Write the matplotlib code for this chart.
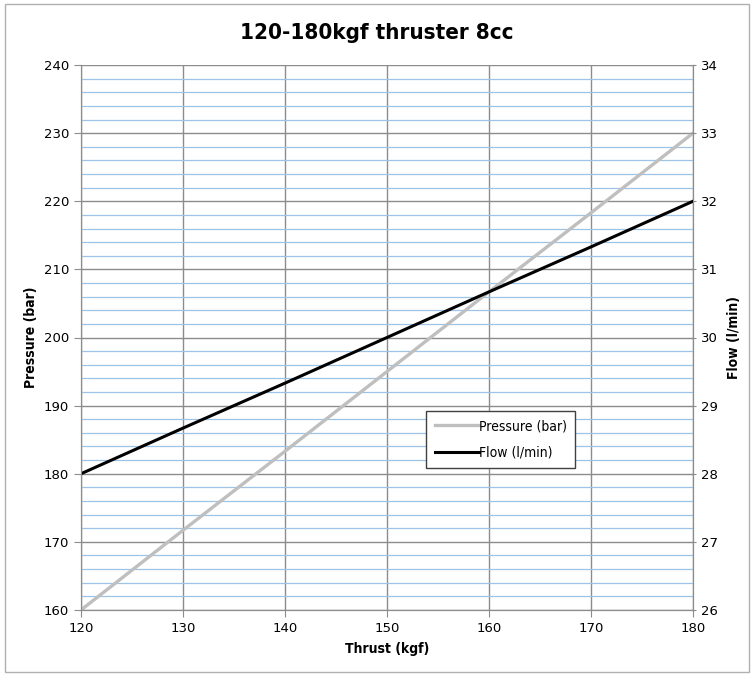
import matplotlib.pyplot as plt
from matplotlib.patches import Rectangle
from matplotlib.ticker import MultipleLocator
from matplotlib import font_manager
from matplotlib.font_manager import FontProperties

## data ##

thrust = [120, 130, 140, 150, 160, 170, 180]
pressure = [160, 171.7, 183.3, 195, 206.7, 218.3, 230]
flow = [28, 28.67, 29.33, 30, 30.67, 31.33, 32]

title = '120-180kgf thruster 8cc'


def condensed(bold, size):
    # pick the DejaVu condensed face by file so the match is stable
    key = 'SansCondensed-Bold.' if bold else 'SansCondensed.'
    for f in font_manager.fontManager.ttflist:
        if key in f.fname:
            return FontProperties(fname=f.fname, size=size)
    return FontProperties(family='DejaVu Sans', stretch='condensed',
                          weight='bold' if bold else 'normal', size=size)


## plot ##

fig = plt.figure(figsize=(7.54, 6.75), dpi=100)
fig.patches.append(Rectangle((0.006, 0.004), 0.988, 0.99, transform=fig.transFigure,
                             fill=False, edgecolor='#b0b0b0', lw=1))
ax = fig.add_axes([0.1074, 0.0963, 0.8117, 0.8074])
ax2 = ax.twinx()

ax.set_xlim(120, 180)
ax.set_ylim(160, 240)
ax2.set_ylim(26, 34)
ax.xaxis.set_major_locator(MultipleLocator(10))
ax.yaxis.set_major_locator(MultipleLocator(10))
ax.yaxis.set_minor_locator(MultipleLocator(2))
ax2.yaxis.set_major_locator(MultipleLocator(1))

# excel style gridlines
ax.grid(which='minor', axis='y', color='#9dc3e6', lw=0.9)
ax.grid(which='major', axis='y', color='#8c8c8c', lw=1)
ax.grid(which='major', axis='x', color='#8c8c8c', lw=1)
ax.set_axisbelow(True)

for a in (ax, ax2):
    a.spines['top'].set_visible(False)
    for s in ('left', 'right', 'bottom'):
        a.spines[s].set_color('#8c8c8c')
ax.tick_params(which='major', length=5, color='#8c8c8c', labelsize=9.5, direction='out')
ax.tick_params(which='minor', length=0)
ax2.tick_params(length=5, color='#8c8c8c', labelsize=9.5, direction='inout')

l1, = ax.plot(thrust, pressure, color='#bfbfbf', lw=2.4, label='Pressure (bar)')
l2, = ax2.plot(thrust, flow, color='black', lw=2.2, label='Flow (l/min)')

leg = ax2.legend(handles=[l1, l2], loc='lower left', bbox_to_anchor=(0.553, 0.248),
                 fancybox=False, framealpha=1, edgecolor='#404040',
                 prop=condensed(False, 10), handlelength=3.2,
                 handletextpad=0.0, borderpad=0.6, labelspacing=0.9)

fig.text(0.5, 0.951, title, ha='center', va='center', fontproperties=condensed(True, 16))
ax.set_xlabel('Thrust (kgf)', fontproperties=condensed(True, 10), labelpad=5)
ax.set_ylabel('Pressure (bar)', fontproperties=condensed(True, 10), labelpad=4)
ax2.set_ylabel('Flow (l/min)', fontproperties=condensed(True, 10), labelpad=6)

plt.savefig('out.png', dpi=100)
